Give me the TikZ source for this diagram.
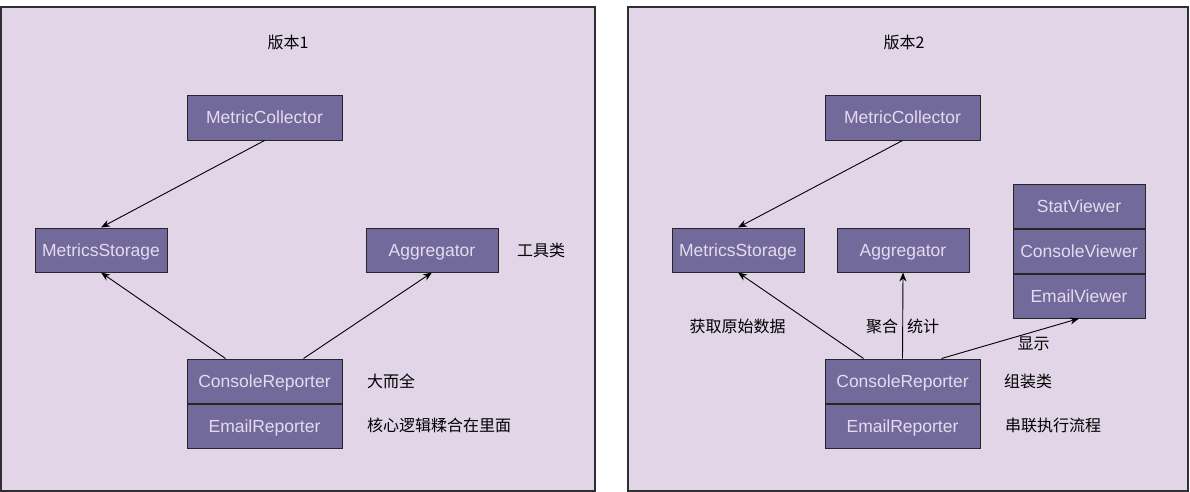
\documentclass[tikz,border=0pt]{standalone}
\usepackage{fontspec}
\setmainfont{Liberation Sans}
\newfontfamily\cjk{Noto Sans CJK SC}
\usepackage{tikz}
\usetikzlibrary{positioning, arrows.meta, calc}

\definecolor{panelbg}{HTML}{E1D5E7}
\definecolor{panelline}{HTML}{2E2E33}
\definecolor{clsfill}{HTML}{736A9C}
\definecolor{clstext}{HTML}{E4DBEE}

\begin{document}
\begin{tikzpicture}[
			x=1pt, y=-1pt,
			panel/.style={draw=panelline, fill=panelbg, line width=1.3pt},
			cls/.style={rectangle, draw=black!85, fill=clsfill, text=clstext, minimum width=155pt, minimum height=44pt, inner sep=0pt, text height=13.5pt, text depth=1.5pt, line width=1pt, font=\fontsize{17.5}{19}\selectfont},
			narrow/.style={cls, minimum width=132pt},
			note/.style={inner sep=0pt, font=\cjk\fontsize{16}{18}\selectfont},
			arrow/.style={line width=0.9pt, -{Stealth[length=9pt, width=7pt]}}
			]
			\useasboundingbox (0,0) rectangle (1190,492);
			
			% Panels
			\draw[panel] (1,7) rectangle (595,491);
			\draw[panel] (628,7) rectangle (1188,491);
			
			% Version 1
			\node[note] (title1) at (288,42) {版本1};
			\node[cls] (collector1) at (264.5,118) {MetricCollector};
			\node[narrow] (storage1) at (101,250) {MetricsStorage};
			\node[narrow] (aggregator1) at (432,250) {Aggregator};
			\node[note, anchor=west] (tools1) at (517,250) {工具类};
			
			\node[cls] (console1) at (264.5,381) {ConsoleReporter};
			\node[cls, below=0pt of console1] (email1) {EmailReporter};
			\node[note, anchor=west] (big1) at (367,381) {大而全};
			\node[note, anchor=west] (core1) at (367,425) {核心逻辑糅合在里面};
			
			% Version 2
			\node[note] (title2) at (904,42) {版本2};
			\node[cls] (collector2) at (902.5,118) {MetricCollector};
			\node[narrow] (storage2) at (738,250) {MetricsStorage};
			\node[narrow] (aggregator2) at (903,250) {Aggregator};
			
			\node[narrow] (statview) at (1079,206) {StatViewer};
			\node[narrow, below=0pt of statview] (consoleview) {ConsoleViewer};
			\node[narrow, below=0pt of consoleview] (emailview) {EmailViewer};
			
			\node[cls] (console2) at (902.5,381) {ConsoleReporter};
			\node[cls, below=0pt of console2] (email2) {EmailReporter};
			\node[note, anchor=west] (assemble2) at (1004,381) {组装类};
			\node[note, anchor=west] (flow2) at (1005,425) {串联执行流程};
			
			% Arrows
			\draw[arrow] (collector1.south) -- (storage1.north);
			\draw[arrow] ($(console1.north west)!0.25!(console1.north east)$) -- (storage1.south);
			\draw[arrow] ($(console1.north west)!0.75!(console1.north east)$) -- (aggregator1.south);
			
			\draw[arrow] (collector2.south) -- (storage2.north);
			\draw[arrow] ($(console2.north west)!0.25!(console2.north east)$) -- node[note, pos=0.37, left=31pt] {获取原始数据} (storage2.south);
			\draw[arrow] (console2.north) -- node[note, pos=0.37] {聚合\hspace{9pt}统计} (aggregator2.south);
			\draw[arrow] ($(console2.north west)!0.75!(console2.north east)$) -- node[note, pos=0.67, below=5pt] {显示} (emailview.south);
			
		\end{tikzpicture}
\end{document}
